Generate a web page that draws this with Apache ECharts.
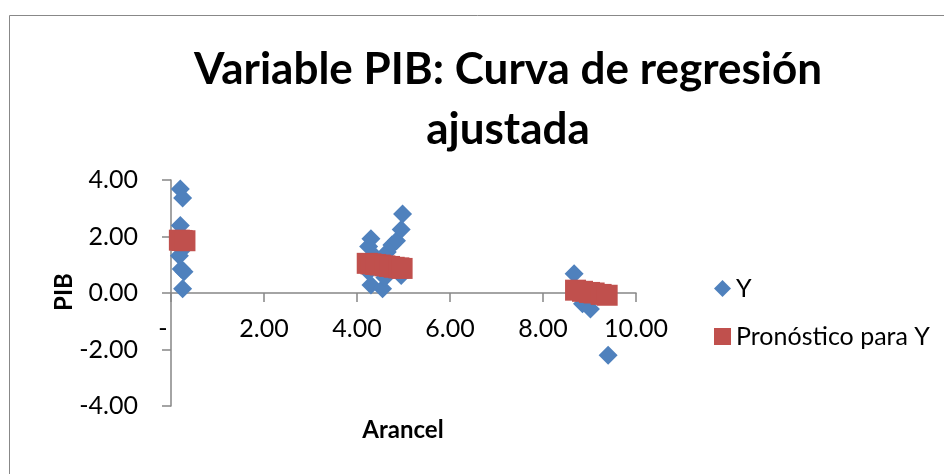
<!DOCTYPE html>
<html>
<head>
<meta charset="utf-8">
<script src="https://cdn.jsdelivr.net/npm/echarts@6/dist/echarts.min.js"></script>
<style>
html,body{margin:0;padding:0;background:#fff;}
#c{width:944px;height:474px;}
</style>
</head>
<body>
<div id="c"></div>
<script>
// Observed data (Y) : Arancel vs PIB
var obsX = [0.20, 0.25, 0.20, 0.22, 0.25, 0.18, 0.22, 0.28, 0.25,
            4.30, 4.25, 4.35, 4.40, 4.25, 4.30, 4.55, 4.60, 4.65, 4.75, 4.85, 4.95, 4.98, 4.95, 4.50,
            8.67, 8.85, 9.02, 9.40];
var obsY = [3.68, 3.36, 2.39, 2.05, 1.55, 1.32, 0.85, 0.75, 0.15,
            1.92, 1.65, 1.35, 1.05, 0.75, 0.28, 0.15, 0.55, 1.45, 1.70, 1.85, 2.25, 2.80, 0.62, 0.95,
            0.68, -0.38, -0.57, -2.20];
// Fitted values (Pronóstico para Y)
var predX = [0.18, 0.24, 0.30,
             4.22, 4.30, 4.40, 4.50, 4.60, 4.70, 4.80, 4.90, 4.97,
             8.70, 8.85, 9.00, 9.10, 9.25, 9.38];
var predY = [1.87, 1.86, 1.85,
             1.05, 1.03, 1.01, 0.99, 0.96, 0.94, 0.91, 0.89, 0.87,
             0.10, 0.06, 0.02, 0.00, -0.05, -0.08];
var seriesNames = ['Y', 'Pronóstico para Y'];
var titleText = 'Variable PIB: Curva de regresión\najustada';
var xName = 'Arancel';
var yName = 'PIB';

function zip(a, b) { return a.map(function (v, i) { return [v, b[i]]; }); }

var FONT = 'Lato, "Open Sans", sans-serif';
var chart = echarts.init(document.getElementById('c'), null, {renderer: 'canvas'});
chart.setOption({
  animation: false,
  backgroundColor: '#fff',
  title: {
    text: titleText,
    left: 508, top: 40, textAlign: 'center', padding: 0,
    textStyle: {fontFamily: FONT, fontWeight: 'bold', fontSize: 44, lineHeight: 60, color: '#000'}
  },
  legend: {
    orient: 'vertical', left: 714, top: 276, padding: 0,
    itemWidth: 17, itemHeight: 17, itemGap: 23,
    textStyle: {fontFamily: FONT, fontSize: 25, color: '#000'},
    data: [{name: seriesNames[0], icon: 'diamond'}, {name: seriesNames[1], icon: 'rect'}]
  },
  grid: {left: 171, right: 308, top: 180, height: 226, containLabel: false},
  xAxis: {
    type: 'value', min: 0, max: 10, interval: 2, offset: -113,
    axisLine: {show: true, onZero: false, lineStyle: {color: '#868686', width: 1.5}},
    axisTick: {show: true, length: 9, lineStyle: {color: '#868686', width: 1.5}},
    splitLine: {show: false},
    axisLabel: {
      margin: 23, fontFamily: FONT, fontSize: 25, color: '#000',
      formatter: function (v) { return v === 0 ? '{z|-}' : v.toFixed(2); },
      rich: {z: {fontFamily: FONT, fontSize: 25, color: '#000', padding: [0, 16, 0, 0]}}
    }
  },
  yAxis: {
    type: 'value', min: -4, max: 4, interval: 2,
    axisLine: {show: true, lineStyle: {color: '#868686', width: 1.5}},
    axisTick: {show: true, length: 9, lineStyle: {color: '#868686', width: 1.5}},
    splitLine: {show: false},
    axisLabel: {
      margin: 33, fontFamily: FONT, fontSize: 25, color: '#000',
      formatter: function (v) { return v.toFixed(2); }
    }
  },
  graphic: [
    {type: 'rect', shape: {x: 9.5, y: 15.5, width: 1000, height: 1000}, style: {fill: 'none', stroke: '#888', lineWidth: 1}, silent: true},
    {type: 'text', x: 64, y: 292, rotation: Math.PI / 2,
      style: {text: yName, fontFamily: FONT, fontWeight: 'bold', fontSize: 24, fill: '#000', align: 'center', verticalAlign: 'middle'}},
    {type: 'text', x: 403, y: 430,
      style: {text: xName, fontFamily: FONT, fontWeight: 'bold', fontSize: 24, fill: '#000', align: 'center', verticalAlign: 'middle'}}
  ],
  series: [
    {name: seriesNames[0], type: 'scatter', symbol: 'diamond', symbolSize: 19,
      itemStyle: {color: '#4F81BD', opacity: 1}, data: zip(obsX, obsY), z: 2},
    {name: seriesNames[1], type: 'scatter', symbol: 'rect', symbolSize: 21,
      itemStyle: {color: '#C0504D', opacity: 1}, data: zip(predX, predY), z: 3}
  ]
});
</script>
</body>
</html>
